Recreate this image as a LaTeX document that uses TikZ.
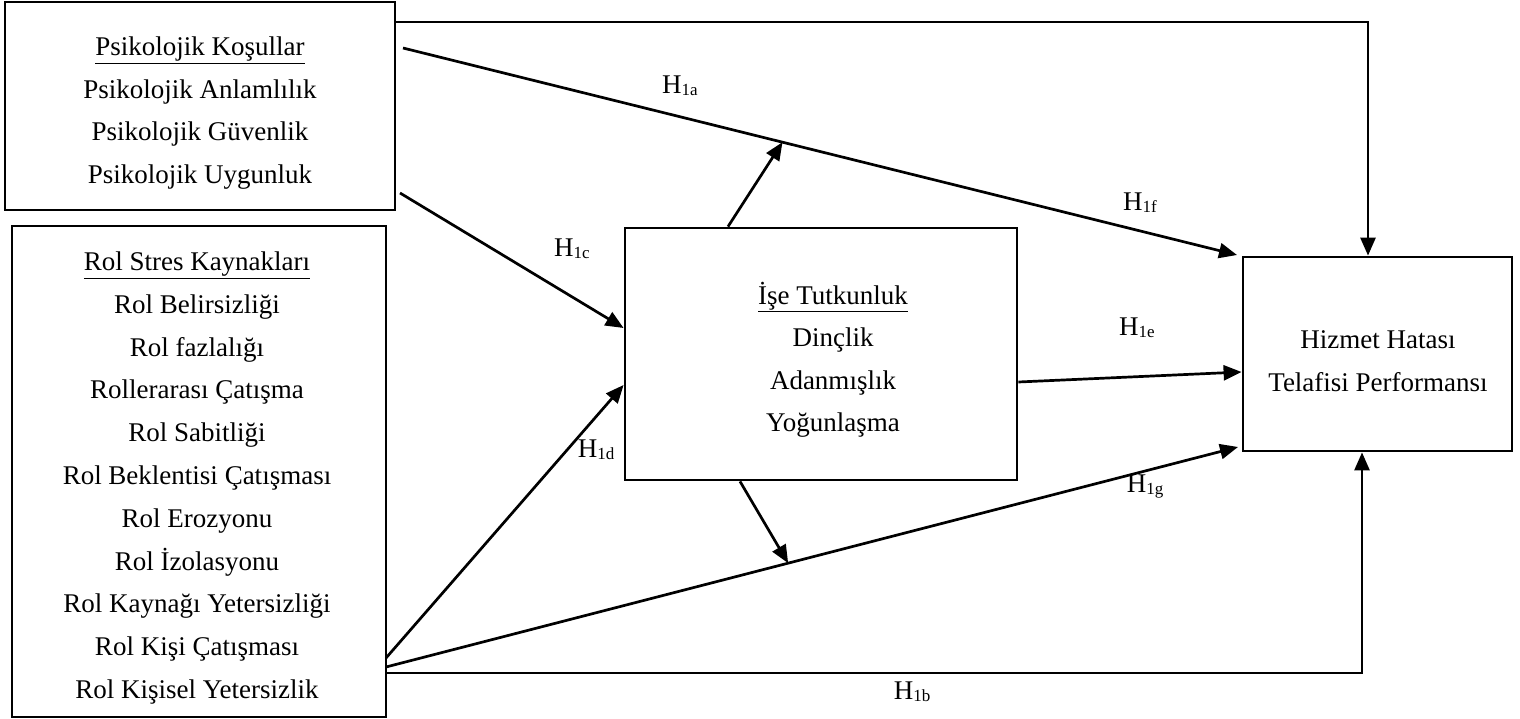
\documentclass[tikz,border=0pt]{standalone}
\usepackage{fontspec}
\setmainfont{Liberation Serif}
\usetikzlibrary{arrows.meta,calc}

\newcommand{\hyp}[1]{H\raisebox{-2pt}{\fontsize{17}{17}\selectfont #1}}

\tikzset{
  box/.style={draw, line width=2.8pt, rectangle, inner sep=0pt},
  boxtext/.style={align=center, inner sep=0pt, font=\fontsize{27}{42.5}\selectfont},
  conn/.style={line width=2.7pt, -{Triangle[length=18pt,width=15pt]}},
  hlabel/.style={inner sep=0pt, font=\fontsize{27}{27}\selectfont},
}

\begin{document}
\begin{tikzpicture}[x=1pt,y=-1pt]
\useasboundingbox (0,0) rectangle (1520,719);

% boxes and their texts
\node[box, minimum width=390pt, minimum height=208pt] (psy) at (200,106) {};
\node[boxtext] (psytext) at (200,113)
  {\underline{Psikolojik Koşullar}\\Psikolojik Anlamlılık\\Psikolojik Güvenlik\\Psikolojik Uygunluk};

\node[box, minimum width=374pt, minimum height=491pt] (rol) at (199,471.5) {};
\node[boxtext, font=\fontsize{27}{42.8}\selectfont] (roltext) at (197,478)
  {\underline{Rol Stres Kaynakları}\\Rol Belirsizliği\\Rol fazlalığı\\Rollerarası Çatışma\\Rol Sabitliği\\Rol Beklentisi Çatışması\\Rol Erozyonu\\Rol İzolasyonu\\Rol Kaynağı Yetersizliği\\Rol Kişi Çatışması\\Rol Kişisel Yetersizlik};

\node[box, minimum width=392pt, minimum height=252pt] (eng) at (821,354) {};
\node[boxtext] (engtext) at (833,360)
  {\underline{İşe Tutkunluk}\\Dinçlik\\Adanmışlık\\Yoğunlaşma};

\node[box, minimum width=269pt, minimum height=194pt] (perf) at (1377.5,354) {};
\node[boxtext] (perftext) at (1378,361)
  {Hizmet Hatası\\Telafisi Performansı};

% connector end points
\coordinate (fA) at (403,48);
\coordinate (fB) at (1237,255);
\coordinate (gA) at (386,667);
\coordinate (gB) at (1238,447);
\coordinate (cA) at (400,193);
\coordinate (dA) at (386,658);
\coordinate (fHit) at ($(fA)!0.455!(fB)$);
\coordinate (gHit) at ($(gA)!0.472!(gB)$);

% H1a: upper path into the top of the outcome box
\draw[conn] (psy.east |- 0,22) -- (1368,22) -- (1368,0 |- perf.north);
% H1b: lower path into the bottom of the outcome box
\draw[conn] (rol.east |- 0,673) -- (1362,673) -- (1362,0 |- perf.south);
% H1f and H1g
\draw[conn] (fA) -- (fB);
\draw[conn] (gA) -- (gB);
% H1c and H1d into the mediator
\draw[conn] (cA) -- (eng.west |- 0,328);
\draw[conn] (dA) -- (eng.west |- 0,385);
% H1e
\draw[conn] (eng.east |- 0,382) -- (perf.west |- 0,372);
% moderation arrows onto the direct paths
\draw[conn] (728,0 |- eng.north) -- (fHit);
\draw[conn] (740,0 |- eng.south) -- (gHit);

% path labels
\node[hlabel] (la) at (680,86) {\hyp{1a}};
\node[hlabel] (lf) at (1140,203) {\hyp{1f}};
\node[hlabel] (lc) at (572,249) {\hyp{1c}};
\node[hlabel] (le) at (1137,328) {\hyp{1e}};
\node[hlabel] (ld) at (596,450) {\hyp{1d}};
\node[hlabel] (lg) at (1145,486) {\hyp{1g}};
\node[hlabel] (lb) at (912,692) {\hyp{1b}};
\end{tikzpicture}
\end{document}
